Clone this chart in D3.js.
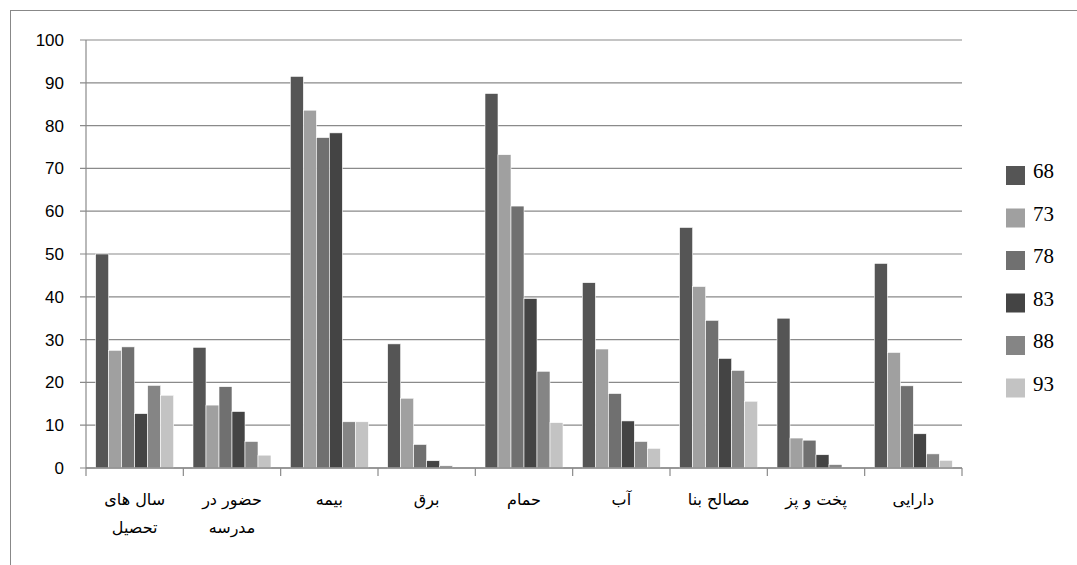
<!DOCTYPE html><html><head><meta charset="utf-8"><script src="https://cdn.jsdelivr.net/npm/d3@7"></script>
<style>body{margin:0;background:#fff}</style></head><body><svg id="c" width="1077" height="565"></svg><script>
const categories=["سال های|تحصیل","حضور در|مدرسه","بیمه","برق","حمام","آب","مصالح بنا","پخت و پز","دارایی"];
const seriesNames=["68","73","78","83","88","93"];
const colors=["#555555","#a0a0a0","#707070","#444444","#858585","#c3c3c3"];
const s68=[50,28.2,91.5,29,87.5,43.3,56.2,35,47.8];
const s73=[27.5,14.7,83.6,16.3,73.2,27.8,42.4,7,27];
const s78=[28.3,19,77.2,5.5,61.2,17.4,34.5,6.5,19.2];
const s83=[12.7,13.2,78.3,1.7,39.6,11,25.6,3.1,8];
const s88=[19.3,6.2,10.8,0.5,22.6,6.2,22.8,0.8,3.3];
const s93=[17,3,10.8,0,10.6,4.6,15.6,0,1.8];
const yTicks=[0,10,20,30,40,50,60,70,80,90,100];
const series=[s68,s73,s78,s83,s88,s93];
const svg=d3.select("#c");
svg.append("rect").attr("x",10.5).attr("y",10.5).attr("width",1100).attr("height",600).attr("fill","none").attr("stroke","#888");
const L=86,R=962,T=40,B=468;
const x=d3.scaleBand().domain(d3.range(categories.length)).range([L,R]);
const xi=d3.scaleBand().domain(d3.range(6)).range([0,78]);
const y=d3.scaleLinear().domain([0,100]).range([B,T]);
const g=svg.append("g");
g.selectAll("line.g").data(yTicks).join("line").attr("x1",L-6).attr("x2",R).attr("y1",d=>y(d)).attr("y2",d=>y(d)).attr("stroke","#8a8a8a").attr("stroke-width",1.2);
g.selectAll("text.y").data(yTicks).join("text").attr("x",L-22).attr("y",d=>y(d)+6).attr("text-anchor","end").attr("font-family","Liberation Sans, Arial").attr("font-size",17).text(d=>d);
g.append("line").attr("x1",L).attr("x2",L).attr("y1",T).attr("y2",B).attr("stroke","#8a8a8a").attr("stroke-width",1.2);
const off=(x.bandwidth()-78)/2;
series.forEach((s,si)=>{
 g.selectAll(null).data(s).join("rect").attr("x",(d,i)=>x(i)+off+xi(si)).attr("width",xi.bandwidth()).attr("y",d=>y(d)).attr("height",d=>B-y(d)).attr("fill",colors[si]).attr("stroke","#fff").attr("stroke-width",0.6);
});
g.append("line").attr("x1",L).attr("x2",R).attr("y1",B).attr("y2",B).attr("stroke","#8a8a8a").attr("stroke-width",1.4);
d3.range(categories.length+1).forEach(i=>{const xx=L+i*x.step();g.append("line").attr("x1",xx).attr("x2",xx).attr("y1",B).attr("y2",B+8).attr("stroke","#8a8a8a").attr("stroke-width",1.2);});
categories.forEach((c,i)=>{c.split("|").forEach((t,j)=>{g.append("text").attr("x",x(i)+x.bandwidth()/2).attr("y",B+37+j*28).attr("text-anchor","middle").attr("direction","rtl").attr("font-family","DejaVu Sans, Noto Sans").attr("font-size",16).text(t);});});
seriesNames.forEach((n,i)=>{const yy=180+i*42.5;g.append("rect").attr("x",1006).attr("y",yy-14).attr("width",19).attr("height",19).attr("fill",colors[i]);g.append("text").attr("x",1033).attr("y",yy-2).attr("font-family","'Liberation Serif', 'DejaVu Serif', serif").attr("font-size",21).text(n);});
</script></body></html>
